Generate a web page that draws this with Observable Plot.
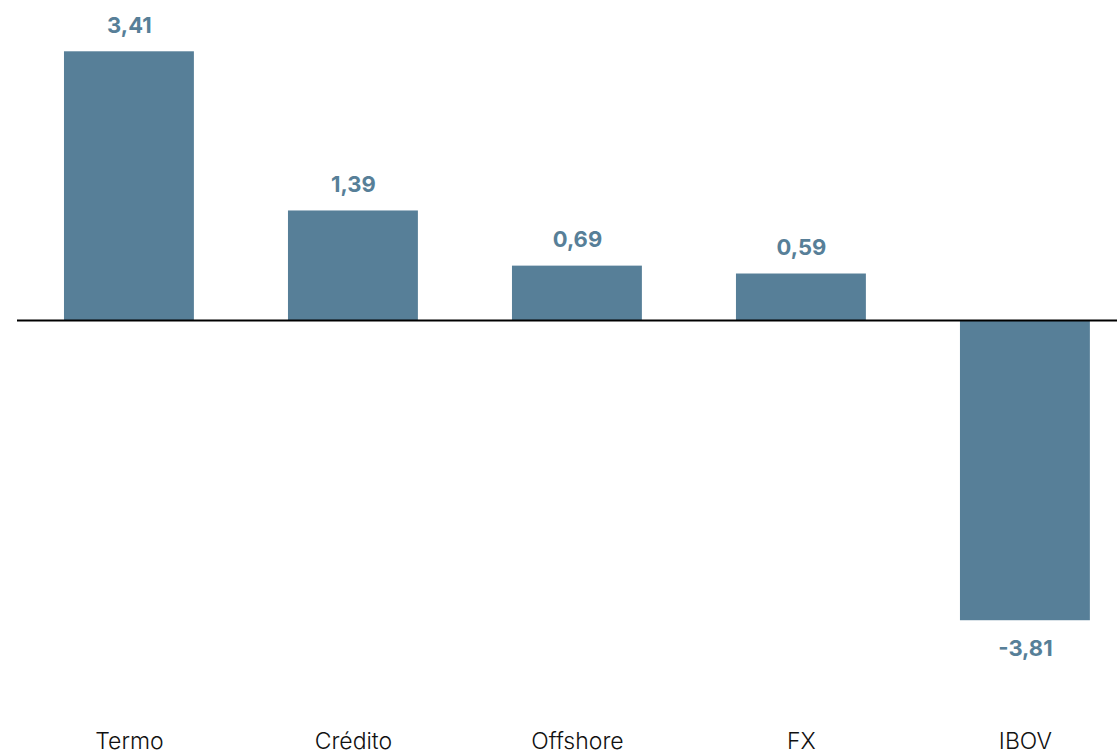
<!DOCTYPE html>
<html>
<head>
<meta charset="utf-8">
<script src="https://cdn.jsdelivr.net/npm/d3@7"></script>
<script src="https://cdn.jsdelivr.net/npm/@observablehq/plot@0.6"></script>
<style>
  html, body { margin: 0; padding: 0; background: #fff; }
  #chart svg { display: block; }
</style>
</head>
<body>
<div id="chart"></div>
<script>
const categories = ["Termo", "Crédito", "Offshore", "FX", "IBOV"];
const values = [3.41, 1.39, 0.69, 0.59, -3.81];

const data = categories.map((c, i) => ({category: c, value: values[i]}));
const barColor = "#577f98";
const fmt = v => v.toFixed(2).replace(".", ",");

const chart = Plot.plot({
  width: 1117,
  height: 755,
  marginLeft: 17,
  marginRight: 0,
  marginTop: 4.8,
  marginBottom: 41,
  style: {fontFamily: "Inter, 'Noto Sans', sans-serif", background: "#fff"},
  x: {domain: categories, paddingInner: 0.42, paddingOuter: 0.1654, align: 0.634, round: false, label: null},
  y: {domain: [-5, 4], axis: null},
  marks: [
    Plot.barY(data, {x: "category", y: "value", fill: barColor}),
    Plot.ruleY([0], {stroke: "#000", strokeWidth: 2}),
    Plot.text(data.filter(d => d.value >= 0), {
      x: "category", y: "value", text: d => fmt(d.value),
      dy: -26, fill: barColor, fontWeight: "bold", fontSize: 22, lineAnchor: "middle"
    }),
    Plot.text(data.filter(d => d.value < 0), {
      x: "category", y: "value", text: d => fmt(d.value),
      dy: 28, fill: barColor, fontWeight: "bold", fontSize: 22, lineAnchor: "middle"
    }),
    Plot.axisX({tickSize: 0, tickPadding: 18, fontSize: 23, fontWeight: 300, fill: "#111", label: null})
  ]
});
document.getElementById("chart").appendChild(chart);
</script>
</body>
</html>
